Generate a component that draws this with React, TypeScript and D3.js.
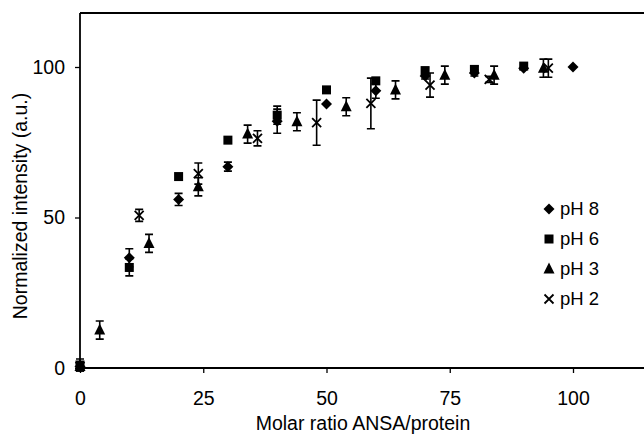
import React, { useEffect, useRef } from 'react';
import * as d3 from 'd3';

// molar ratio ANSA/protein (x) and normalized intensity (y)
const ph8X = [0, 10, 20, 30, 40, 50, 60, 70, 80, 90, 100];
const ph8Y = [0.5, 36.6, 56, 66.9, 82, 87.7, 92.1, 97, 98, 99.6, 100];
const ph8Err = [1, 3, 2, 1.5, 4, 0, 2.5, 1, 1, 0, 0];

const ph6X = [0, 10, 20, 30, 40, 50, 60, 70, 80, 90];
const ph6Y = [1, 33.4, 63.6, 75.7, 84, 92.4, 95.4, 98.8, 99.2, 100.3];
const ph6Err = [2, 2.8, 0, 0, 3, 0, 1, 1, 1, 0];

const ph3X = [0, 4, 14, 24, 34, 44, 54, 64, 74, 84, 94];
const ph3Y = [0.5, 12.6, 41.4, 60.2, 77.7, 81.8, 86.8, 92.4, 97.3, 97.3, 99.6];
const ph3Err = [1.5, 3, 3, 3, 3, 3, 3, 3, 3, 3, 3];

const ph2X = [0, 12, 24, 36, 48, 59, 71, 83, 95];
const ph2Y = [0.5, 50.7, 64.6, 76.3, 81.5, 87.9, 94, 95.9, 99.6];
const ph2Err = [1, 2, 3.5, 2.5, 7.5, 8.4, 4, 1, 3];

const xTicks = [0, 25, 50, 75, 100];
const yTicks = [0, 50, 100];
const legendLabels = ['pH 8', 'pH 6', 'pH 3', 'pH 2'];

const App = () => {
  const ref = useRef<SVGSVGElement>(null);

  useEffect(() => {
    const svg = d3.select(ref.current);
    svg.selectAll('*').remove();

    const width = 644;
    const font = 'Liberation Sans, Arial, sans-serif';

    const x = d3.scaleLinear().domain([0, 100]).range([80, 573]);
    const y = d3.scaleLinear().domain([0, 100]).range([368, 67]);

    // frame: left axis, bottom axis, top border (right side cut off)
    const frame = svg.append('g').attr('stroke', '#000').attr('stroke-width', 1.8).attr('fill', 'none');
    frame.append('line').attr('x1', x(0)).attr('x2', x(0)).attr('y1', 13).attr('y2', y(0));
    frame.append('line').attr('x1', x(0)).attr('x2', width).attr('y1', y(0)).attr('y2', y(0));
    frame.append('line').attr('x1', x(0)).attr('x2', width).attr('y1', 13).attr('y2', 13);

    const xAxis = svg
      .append('g')
      .attr('transform', `translate(0,${y(0)})`)
      .call(d3.axisBottom(x).tickValues(xTicks).tickSize(5).tickSizeOuter(0).tickPadding(18));
    xAxis.select('.domain').remove();
    xAxis.selectAll('line').attr('stroke-width', 1.3);
    xAxis.selectAll('text').attr('font-family', font).attr('font-size', 19.5).attr('fill', '#000');

    const yAxis = svg
      .append('g')
      .attr('transform', `translate(${x(0)},0)`)
      .call(d3.axisLeft(y).tickValues(yTicks).tickSize(5).tickSizeOuter(0).tickPadding(10));
    yAxis.select('.domain').remove();
    yAxis.selectAll('line').attr('stroke-width', 1.3);
    yAxis.selectAll('text').attr('font-family', font).attr('font-size', 19.5).attr('fill', '#000');

    svg
      .append('text')
      .attr('x', 363)
      .attr('y', 430)
      .attr('text-anchor', 'middle')
      .attr('font-family', font)
      .attr('font-size', 19.5)
      .text('Molar ratio ANSA/protein');

    svg
      .append('text')
      .attr('transform', 'translate(27,206) rotate(-90)')
      .attr('text-anchor', 'middle')
      .attr('font-family', font)
      .attr('font-size', 19.5)
      .text('Normalized intensity (a.u.)');

    const series = [
      { xs: ph8X, ys: ph8Y, err: ph8Err, shape: 'diamond' },
      { xs: ph6X, ys: ph6Y, err: ph6Err, shape: 'square' },
      { xs: ph3X, ys: ph3Y, err: ph3Err, shape: 'triangle' },
      { xs: ph2X, ys: ph2Y, err: ph2Err, shape: 'cross' }
    ];

    const marker = (g, shape, cx, cy) => {
      if (shape === 'diamond') {
        g.append('path').attr('d', `M${cx},${cy - 5.5}L${cx + 5.5},${cy}L${cx},${cy + 5.5}L${cx - 5.5},${cy}Z`).attr('fill', '#000');
      } else if (shape === 'square') {
        g.append('rect').attr('x', cx - 4.5).attr('y', cy - 4.5).attr('width', 9).attr('height', 9).attr('fill', '#000');
      } else if (shape === 'triangle') {
        g.append('path').attr('d', `M${cx},${cy - 6.5}L${cx + 5.5},${cy + 4.5}L${cx - 5.5},${cy + 4.5}Z`).attr('fill', '#000');
      } else {
        g.append('path')
          .attr('d', `M${cx - 4.5},${cy - 4.5}L${cx + 4.5},${cy + 4.5}M${cx + 4.5},${cy - 4.5}L${cx - 4.5},${cy + 4.5}`)
          .attr('stroke', '#000')
          .attr('stroke-width', 1.8)
          .attr('fill', 'none');
      }
    };

    const plot = svg.append('g');
    series.forEach((s) => {
      s.xs.forEach((xv, i) => {
        const cx = x(xv);
        const cy = y(s.ys[i]);
        const e = s.err[i];
        if (e > 0) {
          const top = y(s.ys[i] + e);
          const bot = y(s.ys[i] - e);
          plot
            .append('path')
            .attr('d', `M${cx},${top}V${bot}M${cx - 4},${top}H${cx + 4}M${cx - 4},${bot}H${cx + 4}`)
            .attr('stroke', '#000')
            .attr('stroke-width', 1.6)
            .attr('fill', 'none');
        }
        marker(plot, s.shape, cx, cy);
      });
    });

    // legend
    const legend = svg.append('g');
    legendLabels.forEach((label, i) => {
      const ly = 209 + i * 30;
      marker(legend, series[i].shape, 549, ly);
      legend
        .append('text')
        .attr('x', 560)
        .attr('y', ly + 6)
        .attr('font-family', font)
        .attr('font-size', 18.5)
        .text(label);
    });
  }, []);

  return (
    <svg
      ref={ref}
      width={644}
      height={435}
      style={{ position: 'absolute', left: 0, top: 0, background: '#fff' }}
    ></svg>
  );
};

export default App;
